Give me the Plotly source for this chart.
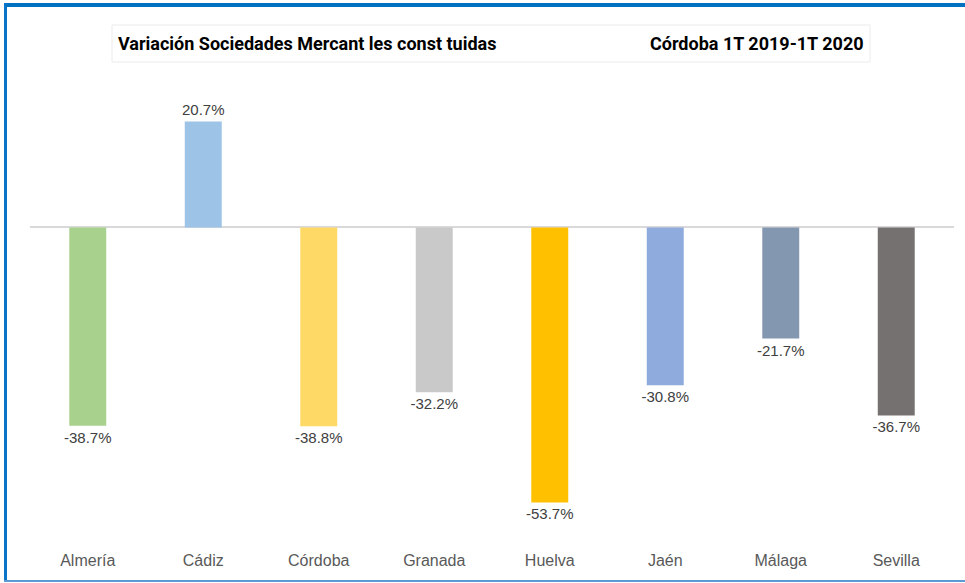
import plotly.graph_objects as go

categories = ["Almería", "Cádiz", "Córdoba", "Granada", "Huelva", "Jaén", "Málaga", "Sevilla"]
values = [-38.7, 20.7, -38.8, -32.2, -53.7, -30.8, -21.7, -36.7]
bar_colors = ["#A9D18E", "#9DC3E6", "#FFD966", "#C9C9C9", "#FFC000", "#8FAADC", "#8497B0", "#767171"]
title_left = "Variación Sociedades Mercant les const tuidas"
title_right = "Córdoba 1T 2019-1T 2020"

W, H = 965, 583
ml, mr, mt, mb = 30, 11, 84, 38
pw = W - ml - mr
ph = H - mt - mb

def px_x(x):
    return (x - ml) / pw

def px_y(y):
    return (H - mb - y) / ph

fig = go.Figure(go.Bar(
    x=categories, y=values,
    marker=dict(color=bar_colors, line=dict(width=0)),
    width=0.32,
    text=[f"{v:.1f}%" for v in values],
    textposition="outside",
    constraintext="none",
    textfont=dict(family="Liberation Sans, Arial", size=15, color="#404040"),
    cliponaxis=False,
))

shapes = [
    # title box
    dict(type="rect", xref="paper", yref="paper", x0=px_x(112), x1=px_x(870), y0=px_y(62), y1=px_y(25),
         line=dict(color="#EBEBEB", width=1), fillcolor="white", layer="below"),
    # frame
    dict(type="line", xref="paper", yref="paper", x0=px_x(4), x1=px_x(975), y0=px_y(5), y1=px_y(5),
         line=dict(color="#0070C0", width=4)),
    dict(type="line", xref="paper", yref="paper", x0=px_x(5.5), x1=px_x(5.5), y0=px_y(3), y1=px_y(582),
         line=dict(color="#0A74C8", width=3)),
    dict(type="line", xref="paper", yref="paper", x0=px_x(4), x1=px_x(975), y0=px_y(581), y1=px_y(581),
         line=dict(color="#5B9BD5", width=2)),
]

title_font = dict(family="Roboto, Liberation Sans, Arial", size=18, color="#000000", weight="bold")
annotations = [
    dict(xref="paper", yref="paper", x=px_x(116), y=px_y(44), text=title_left, showarrow=False,
         xanchor="left", yanchor="middle", font=title_font),
    dict(xref="paper", yref="paper", x=px_x(866), y=px_y(44), text=title_right, showarrow=False,
         xanchor="right", yanchor="middle", font=title_font),
]

fig.update_layout(
    width=W, height=H,
    margin=dict(l=ml, r=mr, t=mt, b=mb),
    paper_bgcolor="white", plot_bgcolor="white",
    showlegend=False,
    shapes=shapes, annotations=annotations,
    xaxis=dict(showgrid=False, showline=False, ticks="", ticklabelstandoff=4,
               tickfont=dict(family="Liberation Sans, Arial", size=16, color="#595959")),
    yaxis=dict(range=[-62, 28], showgrid=False, showticklabels=False, showline=False,
               zeroline=True, zerolinecolor="#D9D9D9", zerolinewidth=2),
)

fig.write_html("out.html", config={"displayModeBar": False},
               post_script="document.body.style.margin='0';document.body.style.overflow='hidden';")
